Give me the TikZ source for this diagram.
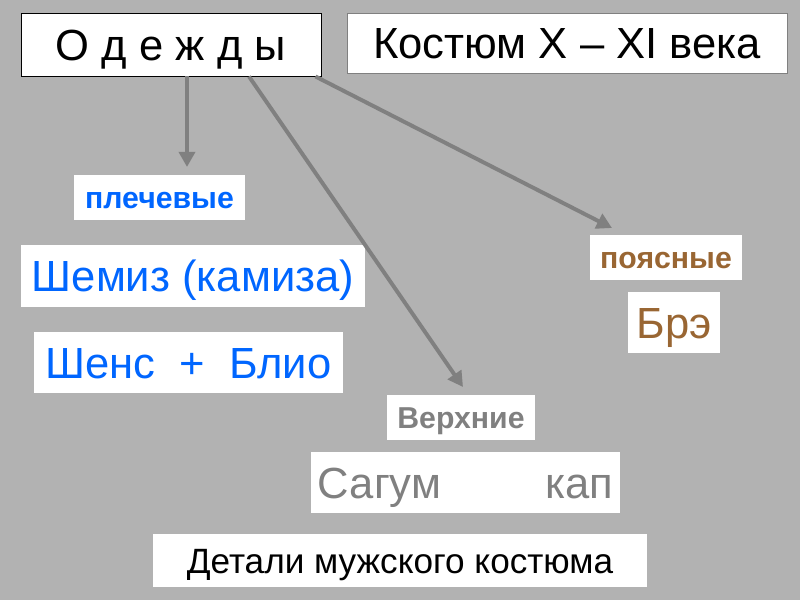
\documentclass[tikz,border=0pt]{standalone}
\usepackage{fontspec}
\setmainfont{Liberation Sans}
\usetikzlibrary{arrows.meta}
\definecolor{slidegray}{RGB}{178,178,178}
\definecolor{linkgray}{RGB}{128,128,128}
\definecolor{shoulderblue}{RGB}{0,102,255}
\definecolor{beltbrown}{RGB}{153,102,51}
\tikzset{
    bigbox/.style={
        rectangle,
        fill=white,
        inner sep=0pt,
        minimum height=1.55cm,
        text height=22.2pt,
        text depth=0pt,
        align=center,
        font=\fontsize{31pt}{36pt}\selectfont
    },
    tagbox/.style={
        rectangle,
        fill=white,
        inner sep=0pt,
        minimum height=1.125cm,
        text height=15.4pt,
        text depth=0pt,
        align=center,
        font=\fontsize{21.5pt}{25pt}\selectfont\bfseries
    },
    arrow/.style={
        draw=linkgray,
        line width=2.8pt,
        -{Triangle[length=0.38cm,width=0.4cm]}
    }
}

\begin{document}
\begin{tikzpicture}

\fill [slidegray] (0,0) rectangle (20,-15);
\useasboundingbox (0,0) rectangle (20,-15);

\node (odezhdy) [bigbox, draw=black, line width=0.7pt, minimum width=7.5cm, minimum height=1.575cm] at (4.275,-1.1125) {О д е ж д ы};
\node (kostyum) [bigbox, draw=linkgray, line width=0.7pt, minimum width=11cm, minimum height=1.5cm] at (14.175,-1.075) {Костюм X – XI века};

\node (plech) [tagbox, text=shoulderblue, minimum width=4.275cm] at (3.9875,-4.9375) {плечевые};
\node (shemiz) [bigbox, text=shoulderblue, minimum width=8.6cm] at (4.825,-6.9) {Шемиз (камиза)};
\node (shens) [bigbox, text=shoulderblue, minimum width=7.725cm, minimum height=1.525cm] at (4.7125,-9.0625) {Шенс \ + \ Блио};

\node (poyas) [tagbox, text=beltbrown, minimum width=3.8cm] at (16.65,-6.4375) {поясные};
\node (bre) [bigbox, text=beltbrown, minimum width=2.3cm, minimum height=1.525cm] at (16.85,-8.0625) {Брэ};

\node (verkh) [tagbox, text=linkgray, minimum width=3.7cm] at (11.525,-10.4375) {Верхние};
\node (sagum) [bigbox, text=linkgray, minimum width=7.725cm, minimum height=1.525cm] at (11.6375,-12.0625) {Сагум\hspace{2.6cm}кап};

\node (detali) [bigbox, font=\fontsize{25pt}{30pt}\selectfont, text height=17.9pt, minimum width=12.35cm, minimum height=1.325cm] at (10,-14.0125) {Детали мужского костюма};

% arrow ends
\coordinate (plechtip) at (4.675,-4.175);
\coordinate (verkhtip) at (11.575,-9.675);
\coordinate (poyastip) at (15.3,-5.7);

\draw [arrow] (odezhdy.south -| plechtip) -- (plechtip);
\draw [arrow] ([xshift=1.95cm]odezhdy.south) -- (verkhtip);
\draw [arrow] ([xshift=-0.15cm]odezhdy.south east) -- (poyastip);

\end{tikzpicture}
\end{document}
